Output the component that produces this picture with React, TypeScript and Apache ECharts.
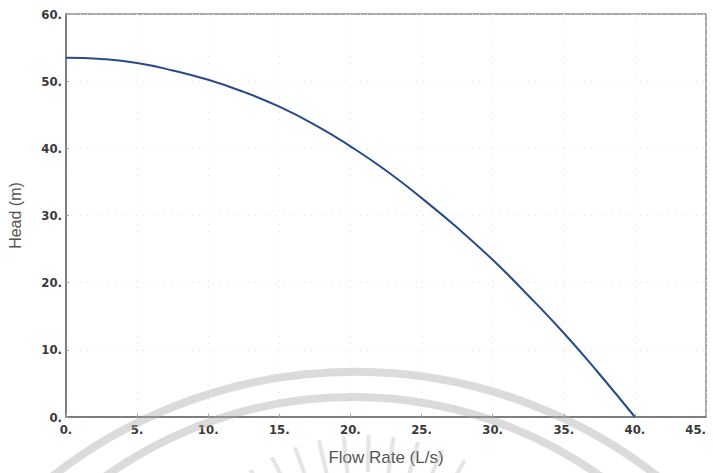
import React, { useEffect, useRef } from "react";
import * as echarts from "echarts";

const flowRate = [0, 2.5, 5, 7.5, 10, 12.5, 15, 17.5, 20, 22.5, 25, 27.5, 30, 32.5, 35, 37.5, 40];
const head = [53.5, 53.3, 52.7, 51.6, 50.2, 48.4, 46.2, 43.5, 40.3, 36.7, 32.6, 28.2, 23.4, 18.1, 12.5, 6.4, 0];
const xTicks = [0, 45, 5];
const yTicks = [0, 60, 10];
const xName = "Flow Rate (L/s)";
const yName = "Head (m)";

const labelFont = "'Liberation Sans Narrow', 'DejaVu Sans Condensed', 'Liberation Sans', sans-serif";

export default function App() {
  const ref = useRef<HTMLDivElement>(null);
  useEffect(() => {
    if (!ref.current) return;
    const chart = echarts.init(ref.current, null, { renderer: "svg" });
    const wm = "rgba(170,170,170,0.42)";
    const rays: any[] = [];
    const cx = 365, cy = 640;
    for (let a = -124; a <= -56; a += 7) {
      const r = (a * Math.PI) / 180;
      rays.push({
        type: "line",
        silent: true,
        z: 100,
        shape: {
          x1: cx + 168 * Math.cos(r),
          y1: cy + 168 * Math.sin(r),
          x2: cx + 205 * Math.cos(r),
          y2: cy + 205 * Math.sin(r),
        },
        style: { stroke: "rgba(180,180,180,0.35)", lineWidth: 4 },
      });
    }
    chart.setOption({
      animation: false,
      backgroundColor: "#ffffff",
      grid: {
        left: 66,
        right: 7,
        top: 14,
        bottom: 56,
        containLabel: false,
        outerBoundsMode: "none",
        show: true,
        borderColor: "#8a8f8f",
        borderWidth: 1.5,
        backgroundColor: "transparent",
      },
      xAxis: {
        type: "value",
        min: xTicks[0],
        max: xTicks[1],
        interval: xTicks[2],
        name: xName,
        nameLocation: "middle",
        nameGap: 32,
        nameTextStyle: { fontFamily: "Liberation Sans", fontSize: 17, color: "#555" },
        axisLine: { show: true, lineStyle: { color: "#6d7070", width: 1.5 } },
        axisTick: { show: true, inside: true, length: 3, lineStyle: { color: "#aaa" } },
        axisLabel: {
          formatter: (v: number) => v + ".",
          fontFamily: labelFont,
          fontWeight: "bold",
          fontSize: 13,
          color: "#3a3a3a",
          margin: 6,
          showMaxLabel: true,
          alignMaxLabel: "right",
        },
        splitLine: { show: true, lineStyle: { color: "#e4e4e4", type: [1, 6], width: 1 } },
      },
      yAxis: {
        type: "value",
        min: yTicks[0],
        max: yTicks[1],
        interval: yTicks[2],
        name: yName,
        nameLocation: "middle",
        nameGap: 43,
        nameTextStyle: { fontFamily: "Liberation Sans", fontSize: 16, color: "#555" },
        axisLine: { show: true, lineStyle: { color: "#6d7070", width: 1.5 } },
        axisTick: { show: true, inside: true, length: 3, lineStyle: { color: "#aaa" } },
        axisLabel: {
          formatter: (v: number) => v + ".",
          fontFamily: labelFont,
          fontWeight: "bold",
          fontSize: 13,
          color: "#3a3a3a",
          margin: 4,
        },
        splitLine: { show: true, lineStyle: { color: "#e4e4e4", type: [1, 6], width: 1 } },
      },
      series: [
        {
          type: "line",
          data: flowRate.map((q, i) => [q, head[i]]),
          smooth: true,
          showSymbol: false,
          lineStyle: { color: "#264a8a", width: 2 },
        },
      ],
      graphic: [
        {
          type: "arc",
          silent: true,
          z: 100,
          shape: { cx: 355, cy: 862, r: 490, startAngle: Math.PI, endAngle: 2 * Math.PI },
          style: { stroke: wm, lineWidth: 8, fill: "none" },
        },
        {
          type: "arc",
          silent: true,
          z: 100,
          shape: { cx: 353, cy: 823, r: 426, startAngle: Math.PI, endAngle: 2 * Math.PI },
          style: { stroke: wm, lineWidth: 8, fill: "none" },
        },
        ...rays,
      ],
    });
    return () => chart.dispose();
  }, []);
  return <div ref={ref} style={{ width: 713, height: 473, position: "absolute", left: 0, top: 0 }} />;
}
